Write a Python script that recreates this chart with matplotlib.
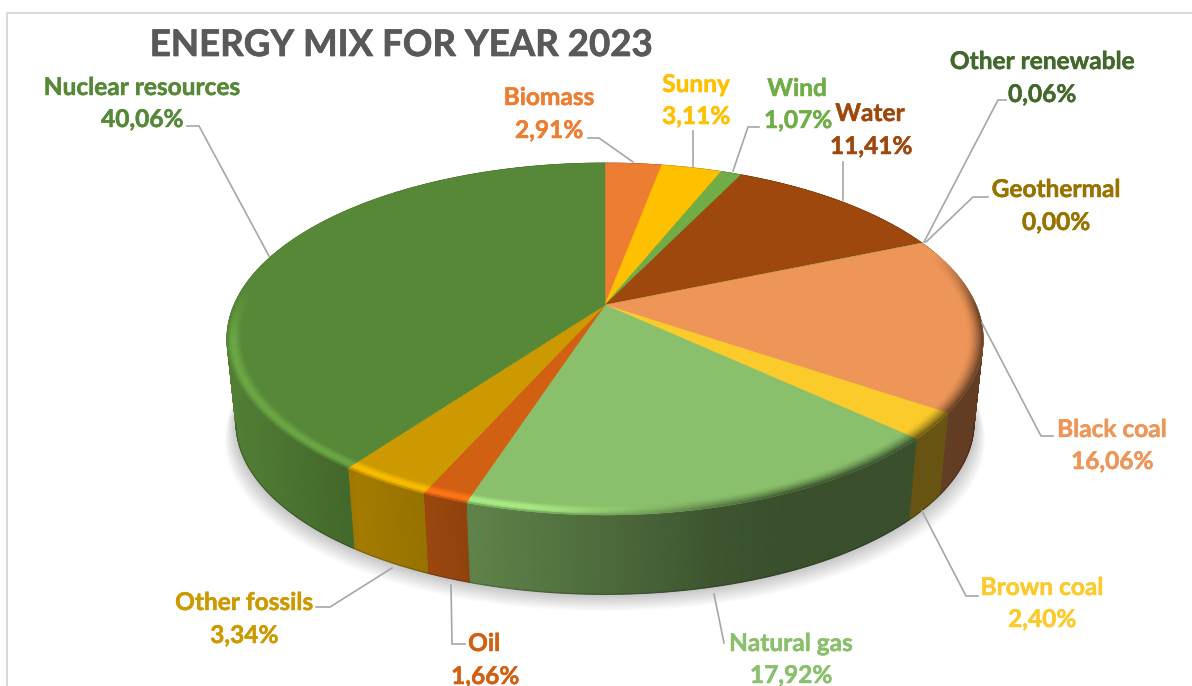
import numpy as np
import matplotlib
matplotlib.use("Agg")
import matplotlib.pyplot as plt
import matplotlib.patheffects as pe
from matplotlib.collections import PolyCollection
from matplotlib.colors import to_rgb
from matplotlib.patches import Polygon, Rectangle

# ---- data (clockwise from 12 o'clock)
categories = ["Biomass", "Sunny", "Wind", "Water", "Other renewable", "Geothermal",
              "Black coal", "Brown coal", "Natural gas", "Oil", "Other fossils",
              "Nuclear resources"]
shares = [2.91, 3.11, 1.07, 11.41, 0.06, 0.00, 16.06, 2.40, 17.92, 1.66, 3.34, 40.06]
share_labels = ["2,91%", "3,11%", "1,07%", "11,41%", "0,06%", "0,00%",
                "16,06%", "2,40%", "17,92%", "1,66%", "3,34%", "40,06%"]
colors = ["#ED7D31", "#FFC000", "#70AD47", "#9E480E", "#43682B", "#997300",
          "#EE9558", "#FBCB2C", "#8AC06B", "#D26012", "#CC9A00", "#578838"]
title = "ENERGY MIX FOR YEAR 2023"

# ---- layout (pixels)
W, H = 1192, 686
CX, CY, A, B, K = 605, 305, 371, 169.4, 0.193
DEPTH, BOTTOM_SCALE = 84.5, 0.976
name_xy = [(549, 96), (696, 83), (797, 87), (870, 112), (1042, 60), (1056, 188),
           (1112, 428), (1042, 586), (791, 642), (484, 642), (244, 601), (142, 86)]
value_xy = [(549, 129), (696, 115), (798, 119), (871, 145), (1042, 93), (1056, 221),
            (1112, 460), (1042, 618), (791, 674), (485, 675), (244, 634), (142, 118)]
leaders = [
    [(588, 138), (599, 138), (633, 162)],
    [(693, 131), (693, 166)],
    [(759, 127), (748, 127), (733, 171)],
    [(843, 162), (843, 200)],
    [(1006, 100), (998, 100), (924, 242)],
    [(988, 197), (973, 197), (926, 242)],
    [(982, 323), (1041, 436), (1053, 436)],
    [(922, 511), (966, 596), (978, 596)],
    [(714, 594), (724, 643)],
    [(451, 585), (452, 644), (465, 644)],
    [(392, 568), (330, 607), (316, 607)],
    [(269, 256), (199, 126), (187, 126)],
]


def project(theta, r=1.0):
    """theta clockwise from top (rad); perspective-projected disc point."""
    X, Y = r * np.sin(theta), r * np.cos(theta)
    d = 1 + K * Y
    return CX + A * X / d, CY - B * Y / d


def project_bottom(theta):
    x, y = project(theta)
    return CX + (x - CX) * BOTTOM_SCALE, CY + DEPTH + (y - CY) * BOTTOM_SCALE


def side_factor(x):
    """Brightness of the side wall relative to the top colour, by screen x."""
    return np.interp(x, [228, 345, 355, 430, 470, 600, 715, 790, 990],
                     [0.93, 0.76, 0.80, 0.73, 0.68, 0.56, 0.44, 0.41, 0.41])


plt.rcParams["font.family"] = ["Lato", "DejaVu Sans"]
fig = plt.figure(figsize=(W / 100, H / 100), dpi=100)
ax = fig.add_axes([0, 0, 1, 1])
ax.set_xlim(0, W)
ax.set_ylim(H, 0)
ax.axis("off")

# chart frame
ax.add_patch(Rectangle((6.5, 12.5), W + 20, H + 20, fc="white", ec="#DADADA", lw=1.5, zorder=0))

# soft shadow
ts = np.linspace(0, 2 * np.pi, 361)
for k in np.linspace(1, 0.08, 14):
    bx, by = project_bottom(ts)
    ax.add_patch(Polygon(np.c_[CX + (bx - CX) * (1 + 0.03 * k), by + 17 * k],
                         fc="black", ec="none", alpha=0.016, zorder=1))

fractions = np.array(shares) / np.sum(shares)
edges = np.concatenate([[0], np.cumsum(fractions)]) * 2 * np.pi
rgb = [np.array(to_rgb(c)) for c in colors]

# side wall
polys, cols = [], []
for i, c in enumerate(rgb):
    n = max(2, int(np.degrees(edges[i + 1] - edges[i])) * 2)
    t = np.linspace(edges[i], edges[i + 1], n + 1)
    for a, b in zip(t[:-1], t[1:]):
        mid = 0.5 * (a + b)
        xa, ya = project(a); xb, yb = project(b)
        xc, yc = project_bottom(b); xd, yd = project_bottom(a)
        polys.append([(xa, ya), (xb, yb), (xc, yc), (xd, yd)])
        cols.append(c * side_factor(project(mid)[0]))
ax.add_collection(PolyCollection(polys, facecolors=cols, edgecolors=cols, linewidths=0.6, zorder=2))

# dark underside line along the bottom edge
tb = np.radians(np.linspace(101, 259, 300))
bx, by = project_bottom(tb)
ax.plot(bx, by, color="black", alpha=0.2, lw=1.0, zorder=2.5)

# top face
for i, c in enumerate(rgb):
    t = np.linspace(edges[i], edges[i + 1], max(2, int(np.degrees(edges[i + 1] - edges[i])) * 2 + 1))
    x, y = project(t)
    ax.add_patch(Polygon(np.r_[[(CX, CY)], np.c_[x, y]], fc=c, ec=c, lw=0.4, zorder=3))

# bevel along the rim
R0, STEPS = 0.962, 9
radii = np.linspace(R0, 1, STEPS + 1)
polys, cols = [], []
for i, c in enumerate(rgb):
    n = max(2, int(np.degrees(edges[i + 1] - edges[i])) * 2)
    t = np.linspace(edges[i], edges[i + 1], n + 1)
    for a, b in zip(t[:-1], t[1:]):
        mid = 0.5 * (a + b)
        mx, my = project(mid)
        fade = np.clip((my - 255) / 55, 0, 1)
        if fade <= 0:
            continue
        light = np.interp(mx, [228, 520, 640, 700], [0.24, 0.24, 0.05, 0.0]) * np.clip((my - 290) / 50, 0, 1)
        dark = np.interp(mx, [560, 700, 800, 990], [0.0, 0.65, 1.0, 1.0]) * fade
        for r1, r2 in zip(radii[:-1], radii[1:]):
            v = (0.5 * (r1 + r2) - R0) / (1 - R0)
            col = np.clip(c * (1 + light * np.sin(np.pi * v ** 1.3)), 0, 1)
            side = c * side_factor(mx)
            w = dark * v ** 1.5
            w = max(w, fade * np.clip((v - 0.8) / 0.2, 0, 1) ** 2 * 0.7)
            col = col * (1 - w) + side * w
            xa, ya = project(a, r1); xb, yb = project(b, r1)
            xc, yc = project(b, r2); xd, yd = project(a, r2)
            polys.append([(xa, ya), (xb, yb), (xc, yc), (xd, yd)])
            cols.append(col)
ax.add_collection(PolyCollection(polys, facecolors=cols, edgecolors=cols, linewidths=0.35, zorder=4))

# leader lines
for pts in leaders:
    p = np.array(pts)
    ax.plot(p[:, 0], p[:, 1], color="#A6A6A6", lw=1.2, solid_joinstyle="miter", zorder=5)

# labels
LABEL_SIZE = 17.6
for name, val, c, nxy, vxy in zip(categories, share_labels, colors, name_xy, value_xy):
    for s, (x, y) in ((name, nxy), (val, vxy)):
        ax.text(x, y + 1.5, s, color=c, fontsize=LABEL_SIZE, fontweight="bold", ha="center", va="center", zorder=6,
                path_effects=[pe.withStroke(linewidth=0.35, foreground=c)])

ax.text(401, 45.5, title, color="#595959", fontsize=26.4, fontweight="bold", ha="center", va="center", zorder=6,
        path_effects=[pe.withStroke(linewidth=0.5, foreground="#595959")])

fig.savefig("out.png", dpi=100)
